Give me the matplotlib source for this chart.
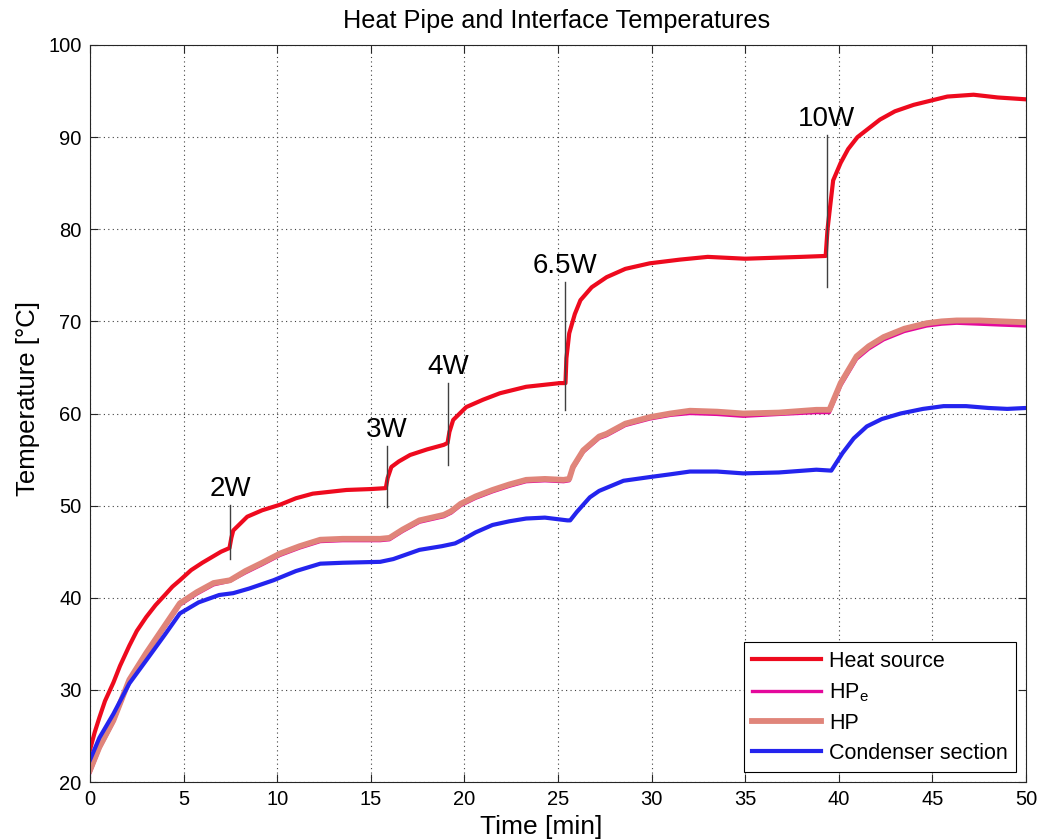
import matplotlib
matplotlib.use('Agg')
import matplotlib.pyplot as plt

plt.rcParams['font.family'] = ['Liberation Sans', 'DejaVu Sans']

# heat source (red)
t_src = [0, 0.25, 0.5, 0.8, 1.25, 1.6, 2.1, 2.5, 3.0, 3.5, 4.0, 4.4, 4.8, 5.4, 6.0, 7.0,
         7.45, 7.55, 7.65, 8.0, 8.4, 9.2,
         10.15, 11.0, 11.9, 13.7, 15.0, 15.8, 15.9, 16.1, 16.5, 17.1, 18.0, 18.9, 19.1,
         19.2, 19.4, 20.1, 21.0, 21.9, 23.3, 25.1, 25.4, 25.45, 25.6, 25.9, 26.2, 26.8,
         27.6, 28.6, 29.9, 31.5, 33.0, 35.0, 36.5, 38.0, 39.3, 39.4, 39.5, 39.7, 40.1,
         40.5, 41.0, 42.2, 43.0, 44.0, 45.0, 45.8, 46.5, 47.2, 48.5, 50.0]
T_src = [23.5, 25.4, 27.0, 28.8, 30.8, 32.6, 34.8, 36.4, 37.9, 39.2, 40.3, 41.2, 41.9, 43.0, 43.8, 45.0,
         45.4, 46.5, 47.3, 48.0, 48.8, 49.5,
         50.1, 50.8, 51.3, 51.7, 51.8, 51.9, 53.0, 54.2, 54.8, 55.5, 56.1, 56.6, 56.8,
         58.0, 59.3, 60.7, 61.5, 62.2, 62.9, 63.3, 63.3, 66.0, 68.7, 70.8, 72.3, 73.7,
         74.8, 75.7, 76.3, 76.7, 77.0, 76.8, 76.9, 77.0, 77.1, 80.0, 81.8, 85.3, 87.2,
         88.7, 90.0, 91.9, 92.8, 93.5, 94.0, 94.4, 94.5, 94.6, 94.3, 94.1]

# heat pipe evaporator (HPe) and heat pipe (HP)
t_hp = [0, 0.5, 1.25, 2.1, 3.0, 4.0, 4.8, 5.7, 6.6, 7.48, 8.3, 9.2, 10.15, 11.2, 12.3,
        13.5, 15.5, 16.0, 16.7, 17.6, 18.9, 19.3, 19.8, 20.6, 21.5, 22.4, 23.3, 24.3,
        25.3, 25.6, 25.8, 26.35, 27.2, 27.6, 28.6, 29.9, 31.0, 32.05, 33.5, 34.9, 36.8,
        38.8, 39.5, 40.1, 40.95, 41.6, 42.4, 43.5, 44.7, 45.5, 46.3, 47.5, 48.7, 50.0]
T_hp = [21.3, 23.8, 26.7, 31.1, 34.0, 37.0, 39.4, 40.6, 41.6, 41.9, 42.9, 43.8, 44.8, 45.6, 46.3,
        46.4, 46.4, 46.5, 47.4, 48.4, 49.0, 49.4, 50.2, 51.0, 51.7, 52.3, 52.8, 52.9,
        52.8, 52.9, 54.2, 56.0, 57.5, 57.8, 58.9, 59.6, 60.0, 60.3, 60.2, 60.0, 60.1,
        60.4, 60.4, 63.3, 66.2, 67.3, 68.3, 69.2, 69.8, 70.0, 70.1, 70.1, 70.0, 69.9]
T_hpe = [21.0, 23.6, 26.5, 30.9, 33.8, 36.8, 39.2, 40.4, 41.4, 41.8, 42.7, 43.6, 44.6, 45.4, 46.1,
         46.2, 46.2, 46.3, 47.2, 48.2, 48.8, 49.2, 50.0, 50.8, 51.5, 52.1, 52.6, 52.7,
         52.6, 52.7, 54.0, 55.8, 57.3, 57.6, 58.7, 59.4, 59.8, 60.0, 59.9, 59.7, 59.9,
         60.1, 60.1, 63.0, 65.9, 67.0, 68.0, 68.9, 69.5, 69.7, 69.8, 69.7, 69.6, 69.5]

# condenser section (blue)
t_cond = [0, 0.5, 1.25, 2.1, 3.0, 4.0, 4.8, 5.8, 6.9, 7.65, 8.5, 9.8, 11.0, 12.3, 13.5,
          15.5, 16.2, 17.6, 18.8, 19.5, 19.9, 20.6, 21.5, 22.4, 23.3, 24.3, 25.5, 25.65,
          26.0, 26.7, 27.2, 28.5, 29.9, 31.0, 32.05, 33.5, 34.9, 36.8, 38.8, 39.6, 40.2,
          40.8, 41.5, 42.3, 43.3, 44.5, 45.6, 46.8, 48.0, 49.0, 50.0]
T_cond = [22.4, 24.8, 27.4, 30.7, 33.2, 36.0, 38.3, 39.5, 40.3, 40.5, 41.0, 41.9, 42.9, 43.7, 43.8,
          43.9, 44.2, 45.2, 45.6, 45.9, 46.3, 47.1, 47.9, 48.3, 48.6, 48.7, 48.4, 48.4,
          49.3, 50.9, 51.6, 52.7, 53.1, 53.4, 53.7, 53.7, 53.5, 53.6, 53.9, 53.8, 55.7,
          57.3, 58.6, 59.4, 60.0, 60.5, 60.8, 60.8, 60.6, 60.5, 60.6]

# power steps
step_labels = ['2W', '3W', '4W', '6.5W', '10W']
step_t = [7.48, 15.87, 19.15, 25.4, 39.35]
step_lo = [44.2, 49.8, 54.4, 60.4, 73.7]
step_hi = [50.1, 56.5, 63.3, 74.3, 90.2]

fig = plt.figure(figsize=(10.42, 8.39), dpi=100)
ax = fig.add_axes([0.0864, 0.0679, 0.8982, 0.8785])

ax.plot(t_src, T_src, color='#ee0a1e', lw=3.0, label='Heat source')
ax.plot(t_hp, T_hpe, color='#e4089c', lw=2.4, label='HP$_\\mathregular{e}$')
ax.plot(t_hp, T_hp, color='#e0857a', lw=4.2, label='HP')
ax.plot(t_cond, T_cond, color='#2424ee', lw=3.0, label='Condenser section')

for lab, t, lo, hi in zip(step_labels, step_t, step_lo, step_hi):
    ax.plot([t, t], [lo, hi], color='#404040', lw=1.0)
    ax.annotate(lab, xy=(t, hi), xytext=(0, 2), textcoords='offset points',
                ha='center', va='bottom', fontsize=20)

ax.set_xlim(0, 50)
ax.set_ylim(20, 100)
ax.set_xticks(range(0, 51, 5))
ax.set_yticks(range(20, 101, 10))
ax.tick_params(direction='in', top=True, right=True, length=6, labelsize=14.5,
               color='#262626', pad=6)
ax.grid(True, linestyle=(0, (1, 3)), color='#404040', lw=0.8)
for sp in ax.spines.values():
    sp.set_color('#262626')
    sp.set_linewidth(0.8)

fig.text(0.534, 0.975, 'Heat Pipe and Interface Temperatures', fontsize=18.2,
         ha='center', va='center')
ax.set_xlabel('Time [min]', fontsize=19)
ax.set_ylabel('Temperature [°C]', fontsize=18.5)
ax.xaxis.set_label_coords(0.482, -0.045)
ax.yaxis.set_label_coords(-0.053, 0.521)

leg = ax.legend(loc='lower right', fontsize=15.5, fancybox=False, framealpha=1,
                edgecolor='black', handlelength=3.2, handletextpad=0.35,
                borderaxespad=0.45, labelspacing=0.42)
leg.get_frame().set_linewidth(0.8)

fig.savefig('out.png', dpi=100)
